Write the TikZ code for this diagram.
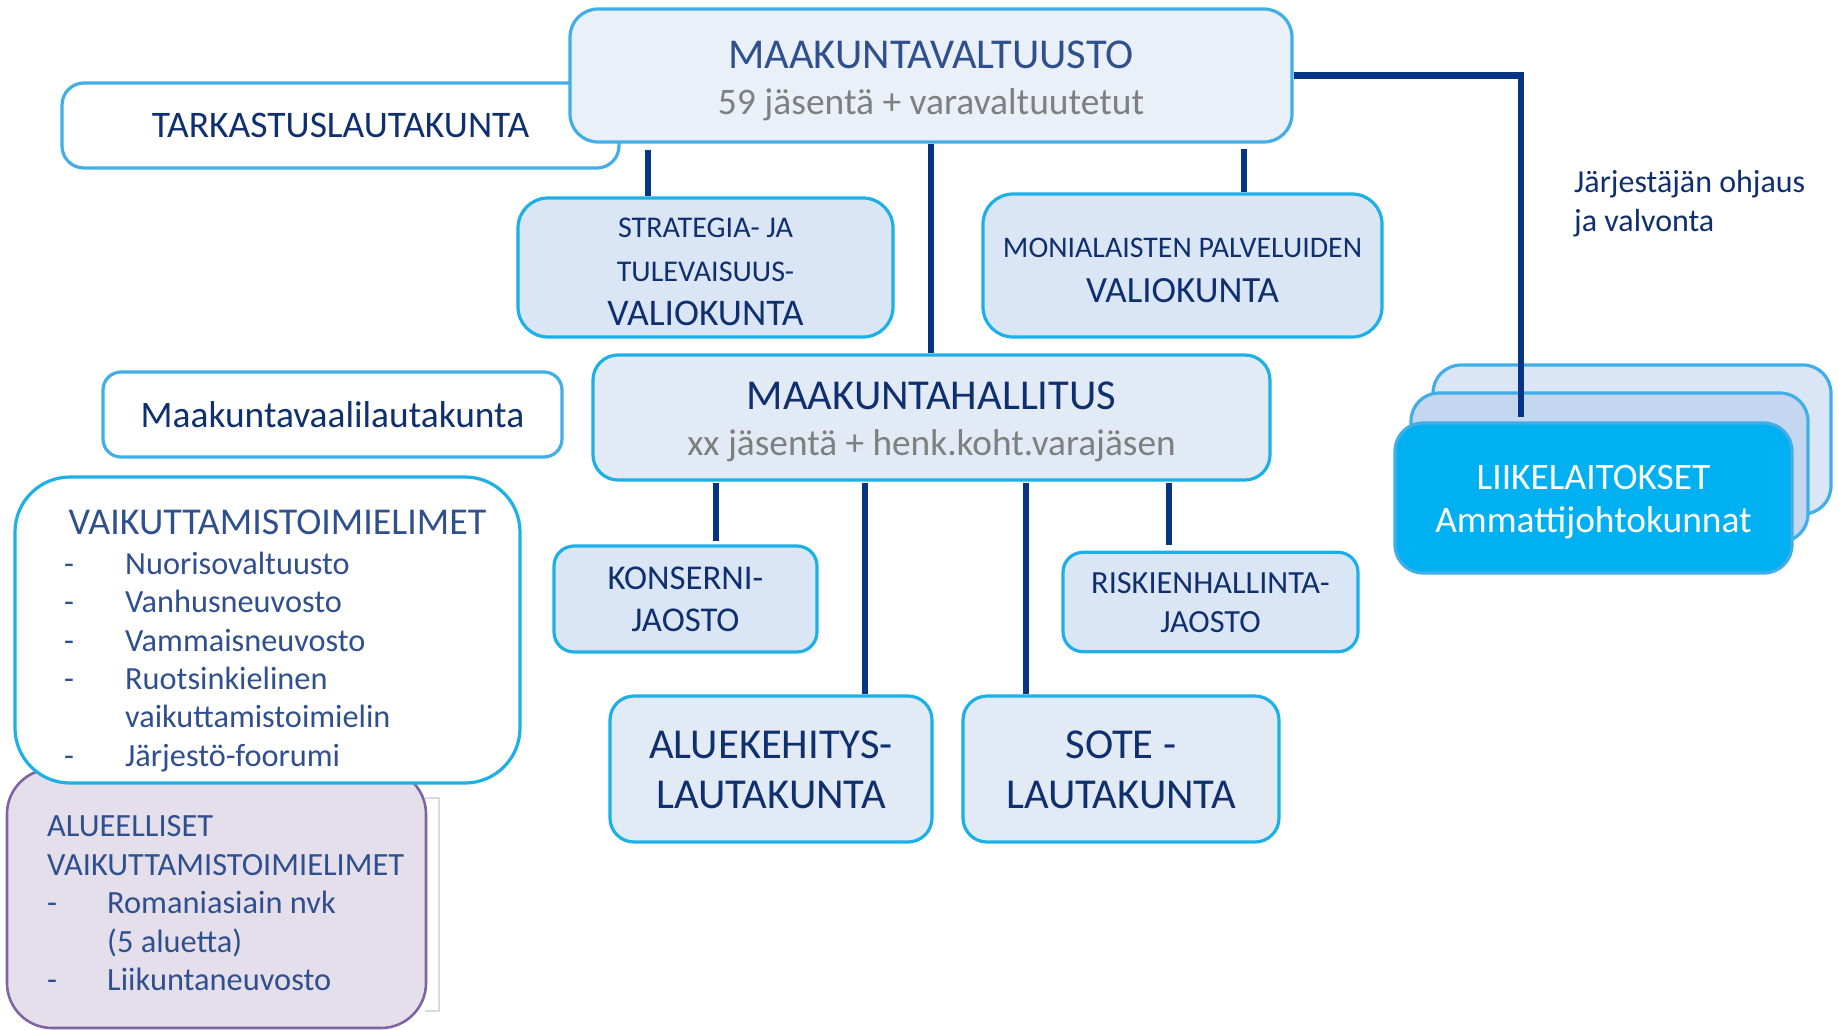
\documentclass[tikz,border=0pt]{standalone}
\usepackage{fontspec}
\setmainfont{Carlito}
\usetikzlibrary{calc}
\definecolor{navyline}{HTML}{053584}
\definecolor{bordlight}{HTML}{41AEE8}
\definecolor{bordcyan}{HTML}{1CB0E6}
\definecolor{mvfill}{HTML}{EAF0F8}
\definecolor{mhfill}{HTML}{E2EAF5}
\definecolor{lightfill}{HTML}{DAE6F6}
\definecolor{midfill}{HTML}{C5D7F0}
\definecolor{cyanfill}{HTML}{00B0F0}
\definecolor{alufill}{HTML}{E5DFEC}
\definecolor{alubord}{HTML}{8064A2}
\definecolor{brkcol}{HTML}{DCD6E8}
\definecolor{navytext}{HTML}{0F2F6E}
\definecolor{bluetext}{HTML}{2F4F8E}
\definecolor{graytext}{HTML}{7F7F7F}
\newcommand\fz[1]{\fontsize{#1pt}{#1pt}\selectfont}
\newcommand\bt[4]{\raisebox{#1pt}[\height][\depth]{\fontsize{#2pt}{#3pt}\selectfont\begin{tabular}{@{}c@{}}#4\end{tabular}}}
\tikzset{
  bx/.style={draw, rounded corners=#1, line width=3.2pt, inner sep=0pt, text=navytext},
  bx/.default=26pt,
  conn/.style={draw=navyline, line width=6.5pt},
  brk/.style={draw=brkcol, line width=2pt},
}
\begin{document}
\begin{tikzpicture}[x=1pt,y=-1pt]
\useasboundingbox (0,0) rectangle (1839,1030);
\fill[white] (0,0) rectangle (1839,1030);

% x positions of connectors
\coordinate (xs) at (648,0);
\coordinate (xm) at (1244,0);
\coordinate (xl) at (1521,0);
\coordinate (xk) at (716,0);
\coordinate (xa) at (865,0);
\coordinate (xo) at (1026,0);
\coordinate (xr) at (1169,0);

% top level
\node[bx=22pt, draw=bordlight, fill=white, minimum width=557pt, minimum height=85pt] (tark) at (340.5,125.5)
  {\bt{-3.6}{30}{42}{\fz{37.5}TARKASTUSLAUTAKUNTA}};
\node[bx=28pt, draw=bordlight, fill=mvfill, minimum width=722pt, minimum height=133pt] (mv) at (931,75.5)
  {\bt{-6.5}{36}{46.6}{\fz{42.5}\color{bluetext}MAAKUNTAVALTUUSTO\\ \fz{37.5}\color{graytext}59 jäsentä + varavaltuutetut}};

\node[bx=30pt, draw=bordcyan, fill=lightfill, minimum width=375pt, minimum height=139pt] (strat) at (705.5,267.5)
  {\bt{-5}{30}{44}{\fz{30.1}STRATEGIA- JA\\ \fz{30.1}TULEVAISUUS-\\ \fz{37.6}VALIOKUNTA}};
\node[bx=30pt, draw=bordcyan, fill=lightfill, minimum width=399pt, minimum height=143pt] (moni) at (1182.5,265.5)
  {\bt{-5.2}{30}{45}{\fz{29.9}MONIALAISTEN PALVELUIDEN\\ \fz{37}VALIOKUNTA}};

\node[bx=25pt, draw=bordcyan, fill=mhfill, minimum width=677pt, minimum height=125pt] (mh) at (931.5,417.5)
  {\bt{-5.8}{30}{46.7}{\fz{42.6}MAAKUNTAHALLITUS\\ \fz{37.3}\color{graytext}xx jäsentä + henk.koht.varajäsen}};

\node[bx=18pt, draw=bordlight, fill=white, minimum width=459pt, minimum height=85pt] (mvl) at (332.5,414.5)
  {\bt{-4.6}{30}{42}{\fz{37.4}Maakuntavaalilautakunta}};

% left lists
\node[bx=45pt, draw=alubord, fill=alufill, line width=2.6pt, minimum width=419pt, minimum height=259pt] (alue) at (216.5,898.5) {};
\draw[brk] (425,798) -- (439,798) -- (439,1011) -- (425,1011);
\node[bx=55pt, draw=bordcyan, fill=white, minimum width=505pt, minimum height=306pt] (vaik) at (267.5,630) {};

\node[anchor=base west, inner sep=0pt, text=bluetext] (vaiktxt) at (64,534.5)
  {\fontsize{32.3pt}{38.3pt}\selectfont\begin{tabular}[t]{@{}p{61pt}@{}l@{}}
   \multicolumn{2}{@{}l@{}}{\hspace{4.5pt}\fz{37.9}VAIKUTTAMISTOIMIELIMET}\\[1.7pt]
   -&Nuorisovaltuusto\\
   -&Vanhusneuvosto\\
   -&Vammaisneuvosto\\
   -&Ruotsinkielinen\\
    &vaikuttamistoimielin\\
   -&Järjestö-foorumi
  \end{tabular}};

\node[anchor=base west, inner sep=0pt, text=bluetext] (aluetxt) at (47,836.7)
  {\fontsize{32.4pt}{38.5pt}\selectfont\begin{tabular}[t]{@{}p{60pt}@{}l@{}}
   \multicolumn{2}{@{}l@{}}{ALUEELLISET}\\
   \multicolumn{2}{@{}l@{}}{VAIKUTTAMISTOIMIELIMET}\\
   -&Romaniasiain nvk\\
    &(5 aluetta)\\
   -&Liikuntaneuvosto
  \end{tabular}};

% jaostot and lautakunnat
\node[bx=20pt, draw=bordcyan, fill=lightfill, minimum width=263pt, minimum height=106pt] (kons) at (685.5,599)
  {\bt{-3.5}{30}{41.7}{\fz{34.8}KONSERNI-\\ \fz{34.8}JAOSTO}};
\node[bx=20pt, draw=bordcyan, fill=lightfill, minimum width=295pt, minimum height=99.4pt] (riski) at (1210.5,602)
  {\bt{-3.6}{30}{38.7}{\fz{32.3}RISKIENHALLINTA-\\ \fz{32.3}JAOSTO}};
\node[bx=24pt, draw=bordcyan, fill=mhfill, minimum width=322pt, minimum height=146pt] (aluek) at (771,769)
  {\bt{-4.3}{30}{50}{\fz{42.6}ALUEKEHITYS-\\ \fz{42.6}LAUTAKUNTA}};
\node[bx=24pt, draw=bordcyan, fill=mhfill, minimum width=316pt, minimum height=146pt] (sote) at (1121,769)
  {\bt{-4.3}{30}{50}{\fz{42.6}SOTE -\\ \fz{42.6}LAUTAKUNTA}};

% liikelaitokset stack
\node[bx=28pt, draw=bordlight, fill=lightfill, minimum width=398pt, minimum height=149pt] (lback) at (1632,439.5) {};
\node[bx=28pt, draw=bordlight, fill=midfill, minimum width=397pt, minimum height=149pt] (lmid) at (1609.5,467.5) {};
\node[bx=28pt, draw=bordlight, fill=cyanfill, text=white, minimum width=397pt, minimum height=150pt] (lfront) at (1593.5,498)
  {\bt{-4.3}{30}{43.3}{\fz{37.4}LIIKELAITOKSET\\ \fz{37.4}Ammattijohtokunnat}};

\node[anchor=base west, inner sep=0pt, text=navytext] (jarj) at (1574,192.7)
  {\fontsize{32pt}{38.3pt}\selectfont\begin{tabular}[t]{@{}l@{}}Järjestäjän ohjaus\\ja valvonta\end{tabular}};

% connectors
\draw[conn] ($(mv.south -| xs)+(0,6)$) -- (strat.north -| xs);
\draw[conn] ($(mv.south -| xm)+(0,5)$) -- (moni.north -| xm);
\draw[conn] (mv.south) -- (mv.south |- mh.north);
\draw[conn] (mv.east) -- (mv.east -| xl) -- ($(lfront.north -| xl)+(0,-4)$);
\draw[conn] ($(mh.south -| xk)+(0,1)$) -- ($(kons.north -| xk)+(0,-3)$);
\draw[conn] ($(mh.south -| xa)+(0,1)$) -- (aluek.north -| xa);
\draw[conn] ($(mh.south -| xo)+(0,1)$) -- (sote.north -| xo);
\draw[conn] ($(mh.south -| xr)+(0,1)$) -- ($(riski.north -| xr)+(0,-6)$);
\end{tikzpicture}
\end{document}
